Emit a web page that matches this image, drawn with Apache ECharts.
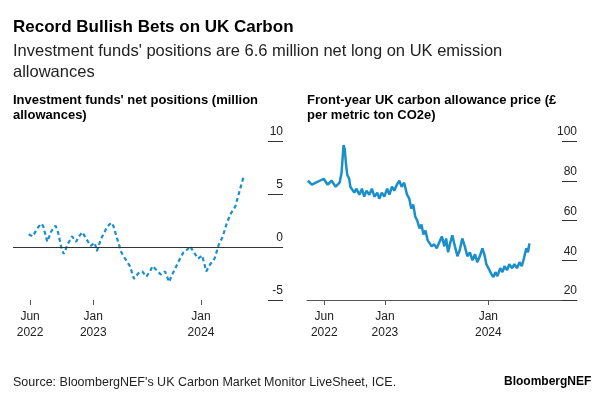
<!DOCTYPE html>
<html lang="en" style="height: 100%">
<head>
  <meta charset="utf-8">
</head>
<body style="height: 100%; margin: 0; background: #fff">
  <div id="container" style="width: 600px; height: 400px"></div>
  <script src="https://cdn.jsdelivr.net/npm/echarts@6/dist/echarts.min.js"></script>
  <script type="text/javascript">
    // investment funds' net positions, million allowances (weekly)
    var posDates = ['2022-05-27', '2022-06-10', '2022-06-24', '2022-07-08', '2022-07-15', '2022-07-29',
      '2022-08-12', '2022-08-26', '2022-09-02', '2022-09-16', '2022-09-23', '2022-10-07', '2022-10-21',
      '2022-11-04', '2022-11-11', '2022-11-25', '2022-12-09', '2022-12-23', '2023-01-06', '2023-01-13',
      '2023-01-27', '2023-02-10', '2023-02-17', '2023-03-03', '2023-03-10', '2023-03-24', '2023-04-06',
      '2023-04-21', '2023-05-05', '2023-05-19', '2023-06-02', '2023-06-16', '2023-06-30', '2023-07-14',
      '2023-07-21', '2023-08-04', '2023-08-18', '2023-09-01', '2023-09-15', '2023-09-22', '2023-10-06',
      '2023-10-20', '2023-11-03', '2023-11-17', '2023-11-24', '2023-12-08', '2023-12-22', '2024-01-05',
      '2024-01-19', '2024-02-02', '2024-02-16', '2024-03-01', '2024-03-15', '2024-03-29', '2024-04-12',
      '2024-04-26', '2024-05-10', '2024-05-24'];
    var posValues = [1.2, 1.0, 1.7, 2.2, 2.0, 0.5,
      1.5, 2.0, 1.6, -0.2, -0.65, 0.3, 1.0,
      0.5, 0.9, 1.4, 0.75, 0.1, 0.4, -0.4,
      0.75, 1.5, 1.9, 2.3, 2.0, 0.7, -0.5,
      -1.2, -1.8, -3.0, -2.5, -2.3, -2.8, -2.2,
      -1.8, -2.2, -2.6, -2.3, -3.3, -2.8, -2.0,
      -1.2, -0.5, -0.2, 0.1, -0.5, -1.1, -0.8,
      -2.3, -1.6, -1.1, 0.2, 1.0, 2.3, 3.2,
      3.8, 5.2, 6.6];

    // front-year UK carbon allowance price, GBP per metric ton CO2e
    var priceDates = ['2022-04-04', '2022-04-18', '2022-05-02', '2022-05-16', '2022-05-30', '2022-06-13',
      '2022-06-27', '2022-07-11', '2022-07-25', '2022-08-01', '2022-08-05', '2022-08-08', '2022-08-12',
      '2022-08-17', '2022-08-21', '2022-08-28', '2022-09-01', '2022-09-08', '2022-09-15', '2022-09-22',
      '2022-10-03', '2022-10-12', '2022-10-20', '2022-10-28', '2022-11-07', '2022-11-16', '2022-11-25',
      '2022-12-05', '2022-12-12', '2022-12-21', '2022-12-30', '2023-01-09', '2023-01-17', '2023-01-26',
      '2023-02-03', '2023-02-12', '2023-02-21', '2023-03-01', '2023-03-10', '2023-03-20', '2023-03-28',
      '2023-04-04', '2023-04-11', '2023-04-18', '2023-04-25', '2023-05-03', '2023-05-10', '2023-05-17',
      '2023-05-24', '2023-06-01', '2023-06-07', '2023-06-15', '2023-06-24', '2023-07-03', '2023-07-12',
      '2023-07-21', '2023-07-30', '2023-08-05', '2023-08-12', '2023-08-20', '2023-08-27', '2023-09-05',
      '2023-09-14', '2023-09-22', '2023-10-01', '2023-10-10', '2023-10-19', '2023-10-28', '2023-11-06',
      '2023-11-15', '2023-11-23', '2023-12-02', '2023-12-11', '2023-12-18', '2023-12-25', '2024-01-05',
      '2024-01-12', '2024-01-19', '2024-01-26', '2024-02-02', '2024-02-12', '2024-02-20', '2024-02-27',
      '2024-03-07', '2024-03-15', '2024-03-25', '2024-04-02', '2024-04-11', '2024-04-20', '2024-04-28',
      '2024-05-04', '2024-05-09', '2024-05-14', '2024-05-20', '2024-05-25'];
    var priceValues = [80, 78, 79, 80, 81, 78,
      80, 77, 79, 84, 92, 97.9, 96,
      88, 83, 81, 77, 78, 74, 76,
      73, 76, 72, 75, 73, 76, 72,
      74, 71, 74, 72, 76, 73, 77,
      75, 78, 80, 77, 79, 73, 71,
      66, 68, 62, 60, 56, 58, 53,
      55, 50, 49, 47, 48, 46, 49,
      52, 47, 51, 44, 49, 52.5, 47,
      42, 45, 51, 47, 42, 44, 40,
      43, 39, 42, 46, 43, 38, 35,
      33, 31.6, 34, 32, 36, 34, 37,
      35, 38, 36, 38, 36, 39, 37,
      40, 43, 46, 44, 48.5];

    var tickDates = ['2022-06-01', '2023-01-01', '2024-01-01'];

    var FONT = "'Liberation Sans', Arial, sans-serif";
    var LINE = '#1b8fcb';
    var months = ['Jan', 'Feb', 'Mar', 'Apr', 'May', 'Jun', 'Jul', 'Aug', 'Sep', 'Oct', 'Nov', 'Dec'];

    function ts(s) { return +new Date(s + 'T00:00:00Z'); }
    function zip(d, v) {
      return d.map(function (x, i) { return [ts(x), v[i]]; });
    }
    var tickTs = tickDates.map(ts);

    function dateLabel(val) {
      var d = new Date(val);
      return months[d.getUTCMonth()] + '\n' + d.getUTCFullYear();
    }

    function xAxisOpt(gridIndex, min, max, showLine) {
      return {
        type: 'value',
        gridIndex: gridIndex,
        min: ts(min),
        max: ts(max),
        axisLine: { show: showLine, onZero: false, lineStyle: { color: '#555', width: 1 } },
        axisTick: { show: true, length: 5, customValues: tickTs, lineStyle: { color: '#555' } },
        axisLabel: {
          customValues: tickTs,
          formatter: dateLabel,
          color: '#222',
          fontSize: 12,
          fontFamily: FONT,
          lineHeight: 16,
          margin: 9
        },
        splitLine: { show: false }
      };
    }

    function yAxisOpt(gridIndex, min, max, interval) {
      return {
        type: 'value',
        gridIndex: gridIndex,
        position: 'right',
        min: min,
        max: max,
        interval: interval,
        axisLine: { show: false },
        axisTick: { show: true, inside: true, length: 15, lineStyle: { color: '#333', width: 1 } },
        axisLabel: {
          inside: true,
          margin: 0,
          verticalAlign: 'bottom',
          padding: [0, 0, 3, 0],
          color: '#222',
          fontSize: 12,
          fontFamily: FONT
        },
        splitLine: { show: false }
      };
    }

    var chart = echarts.init(document.getElementById('container'), null, { renderer: 'canvas' });

    var option = {
      backgroundColor: '#fff',
      animation: false,
      title: [
        {
          text: 'Record Bullish Bets on UK Carbon',
          left: 13, top: 19, padding: 0,
          textStyle: { fontSize: 17, fontWeight: 'bold', color: '#000', fontFamily: FONT }
        },
        {
          text: "Investment funds' positions are 6.6 million net long on UK emission\nallowances",
          left: 13, top: 41, padding: 0,
          textStyle: { fontSize: 16.5, fontWeight: 'normal', color: '#222', fontFamily: FONT, lineHeight: 21 }
        },
        {
          text: "Investment funds' net positions (million\nallowances)",
          left: 13, top: 93, padding: 0,
          textStyle: { fontSize: 13, fontWeight: 'bold', color: '#000', fontFamily: FONT, lineHeight: 15 }
        },
        {
          text: 'Front-year UK carbon allowance price (£\nper metric ton CO2e)',
          left: 307, top: 93, padding: 0,
          textStyle: { fontSize: 13, fontWeight: 'bold', color: '#000', fontFamily: FONT, lineHeight: 15 }
        },
        {
          text: "Source: BloombergNEF's UK Carbon Market Monitor LiveSheet, ICE.",
          left: 13, top: 376, padding: 0,
          textStyle: { fontSize: 12.5, fontWeight: 'normal', color: '#222', fontFamily: FONT }
        },
        {
          text: 'BloombergNEF',
          left: 504, top: 376, padding: 0,
          textStyle: { fontSize: 12, fontWeight: 'bold', color: '#000', fontFamily: FONT }
        }
      ],
      grid: [
        { left: 13, right: 317, top: 141, bottom: 100 },
        { left: 307, right: 23, top: 141, bottom: 100 }
      ],
      xAxis: [
        xAxisOpt(0, '2022-04-04', '2024-10-05', false),
        xAxisOpt(1, '2022-04-01', '2024-11-09', true)
      ],
      yAxis: [
        yAxisOpt(0, -5, 10, 5),
        yAxisOpt(1, 20, 100, 20)
      ],
      series: [
        {
          name: 'Net positions',
          type: 'line',
          xAxisIndex: 0,
          yAxisIndex: 0,
          data: zip(posDates, posValues),
          showSymbol: false,
          lineStyle: { color: LINE, width: 2.2, type: [4, 3] },
          markLine: {
            silent: true,
            symbol: ['none', 'none'],
            label: { show: false },
            lineStyle: { color: '#333', width: 1.2, type: 'solid' },
            data: [{ yAxis: 0 }]
          },
          z: 3
        },
        {
          name: 'UKA price',
          type: 'line',
          xAxisIndex: 1,
          yAxisIndex: 1,
          data: zip(priceDates, priceValues),
          showSymbol: false,
          lineStyle: { color: LINE, width: 2.5 },
          z: 3
        }
      ]
    };

    chart.setOption(option);
  </script>
</body>
</html>
